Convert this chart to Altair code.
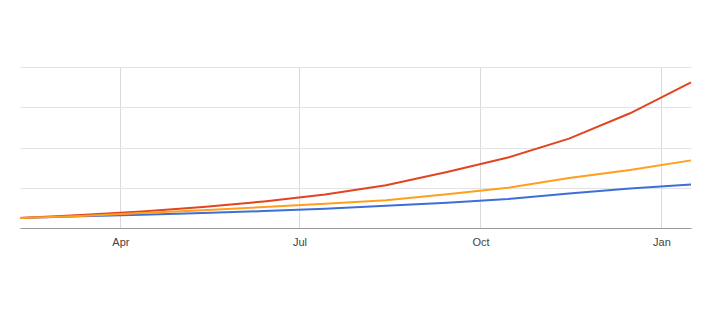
import altair as alt
import pandas as pd

dates = ["2015-02-09", "2015-03-12", "2015-04-12", "2015-05-13", "2015-06-13", "2015-07-14",
         "2015-08-14", "2015-09-14", "2015-10-15", "2015-11-15", "2015-12-16", "2016-01-16"]
blue = [25, 29, 33, 37, 42, 48, 55, 63, 72, 86, 98, 108]
red = [25, 32, 41, 52, 66, 83, 106, 139, 175, 222, 285, 362]
orange = [25, 30, 37, 44, 52, 60, 69, 84, 100, 124, 144, 168]

series_names = ["Blue", "Red", "Orange"]
series_colors = ["#3d6fd6", "#e2441f", "#ff9f1c"]
tick_months = [(2015, 4), (2015, 7), (2015, 10), (2016, 1)]

rows = []
for name, vals in zip(series_names, [blue, red, orange]):
    for i, (d, v) in enumerate(zip(dates, vals)):
        rows.append({"date": d, "value": v, "series": name, "order": series_names.index(name)})
df = pd.DataFrame(rows)

font = "Liberation Sans"

chart = alt.Chart(df).mark_line(strokeWidth=2).encode(
    x=alt.X(
        "date:T",
        title=None,
        scale=alt.Scale(
            type="utc",
            nice=False,
            domain=[alt.DateTime(year=2015, month=2, date=9, utc=True),
                    alt.DateTime(year=2016, month=1, date=16, utc=True)],
        ),
        axis=alt.Axis(
            values=[alt.DateTime(year=y, month=m, date=1, utc=True) for y, m in tick_months],
            format="%b",
            grid=True,
            gridColor="#dadada",
            gridWidth=1,
            ticks=False,
            domainColor="#9a9a9a",
            domainWidth=1,
            labelFont=font,
            labelFontSize=11,
            labelColor="#444444",
            labelPadding=8,
        ),
    ),
    y=alt.Y(
        "value:Q",
        title=None,
        scale=alt.Scale(domain=[0, 400], nice=False),
        axis=alt.Axis(
            values=[0, 100, 200, 300, 400],
            labels=False,
            ticks=False,
            domain=False,
            grid=True,
            gridColor="#e3e3e3",
            gridWidth=1,
        ),
    ),
    color=alt.Color(
        "series:N",
        scale=alt.Scale(domain=series_names, range=series_colors),
        legend=None,
    ),
    order=alt.Order("order:Q"),
).properties(
    width=671,
    height=161,
    autosize=alt.AutoSizeParams(type="none"),
    padding={"left": 20, "top": 67, "right": 22, "bottom": 84},
).configure_view(stroke=None)

chart.save("out.html", embed_options={"renderer": "svg", "actions": False})
